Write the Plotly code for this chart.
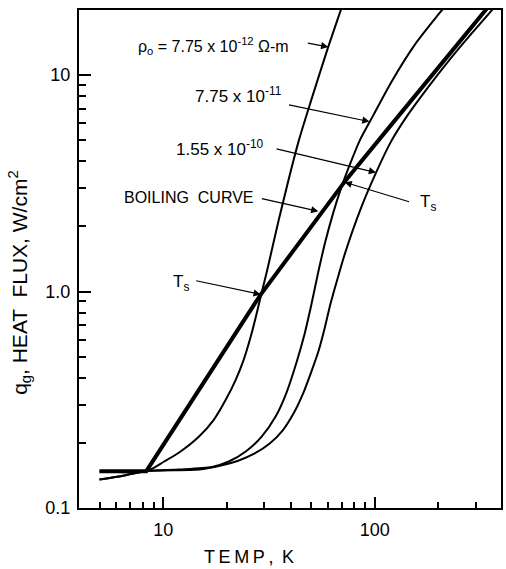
import numpy as np
import plotly.graph_objects as go

# ---- data ----
T_boil = [5.0, 8.32, 28.89, 73.3, 119.3, 174.2, 241.1, 330.0, 348.4]
q_boil = [0.1479, 0.1479, 0.9686, 3.291, 5.875, 9.213, 13.56, 19.69, 21.01]

T_r12 = [5.0, 8.32, 10.11, 11.89, 14.77, 17.37, 19.78, 22.04, 24.03, 25.93, 27.36,
         28.89, 30.83, 35.11, 43.60, 50.17, 60.31, 68.69, 70.96]
q_r12 = [0.1479, 0.1479, 0.164, 0.1804, 0.2139, 0.2563, 0.3170, 0.3922, 0.4852, 0.6197,
         0.7586, 0.9482, 1.224, 2.128, 4.930, 7.706, 13.54, 19.65, 21.62]

T_r11 = [5.0, 6.555, 8.32, 11.89, 17.00, 20.43, 24.56, 29.20, 33.99, 38.28, 42.66, 46.52,
         50.17, 54.13, 58.40, 63.68, 69.43, 76.55, 85.30, 98.18, 119.3, 154.7, 204.9, 214.0]
q_r11 = [0.1354, 0.1413, 0.1482, 0.1506, 0.1547, 0.1640, 0.1824, 0.2139, 0.2646, 0.3416,
         0.4699, 0.6330, 0.8710, 1.237, 1.702, 2.317, 3.022, 3.902, 5.036, 6.501, 9.234,
         13.83, 19.65, 20.72]

T_r10 = [5.0, 6.555, 8.32, 14.77, 18.74, 22.77, 27.07, 31.86, 36.66, 41.29, 46.02, 50.17,
         54.13, 57.77, 61.64, 66.50, 72.51, 86.22, 101.4, 119.3, 140.4, 178.1, 226.0, 283.7,
         356.0, 367.8]
q_r10 = [0.1354, 0.1413, 0.1482, 0.1506, 0.1572, 0.1658, 0.1786, 0.1986, 0.2280, 0.2732,
         0.3416, 0.4270, 0.5283, 0.6677, 0.8710, 1.136, 1.514, 2.443, 3.545, 4.930, 6.364,
         8.757, 11.79, 15.38, 19.86, 20.72]

x_major = [10, 100]
x_major_text = ["10", "100"]
x_minor = [5, 6, 7, 8, 9, 20, 30, 40, 50, 60, 70, 80, 90, 200, 300]
y_major = [0.1, 1, 10]
y_major_text = ["0.1", "1.0", "10"]
y_minor = [0.2, 0.3, 0.4, 0.5, 0.6, 0.7, 0.8, 0.9, 2, 3, 4, 5, 6, 7, 8, 9]

# arrow tips (T, q) on the curves
tip_r12 = (60.3, 13.5)
tip_r11 = (94.4, 6.1)
tip_r10 = (101.4, 3.55)
tip_boil = (54.1, 2.35)
tip_ts_right = (72.0, 3.2)
tip_ts_left = (28.9, 0.97)

FONT = "Liberation Sans"

fig = go.Figure()
for T, q in [(T_r12, q_r12), (T_r11, q_r11), (T_r10, q_r10)]:
    fig.add_trace(go.Scatter(x=T, y=q, mode="lines",
                             line=dict(color="black", width=2, shape="spline", smoothing=0.7),
                             hoverinfo="skip"))
fig.add_trace(go.Scatter(x=T_boil, y=q_boil, mode="lines",
                         line=dict(color="black", width=4), hoverinfo="skip"))

axis_common = dict(type="log", showgrid=False, zeroline=False, showline=True,
                   linecolor="black", linewidth=2, mirror=True, ticks="inside",
                   tickwidth=1.5, tickcolor="black",
                   tickfont=dict(size=18, family=FONT, color="black"))

fig.update_xaxes(**axis_common, range=[np.log10(4.0), np.log10(395)],
                 tickmode="array", tickvals=x_major, ticktext=x_major_text, ticklen=11,
                 ticklabelstandoff=4,
                 minor=dict(tickmode="array", tickvals=x_minor, ticks="inside", ticklen=6,
                            tickwidth=1.5, tickcolor="black", showgrid=False))
fig.update_yaxes(**axis_common, range=[-1, np.log10(20)],
                 tickmode="array", tickvals=y_major, ticktext=y_major_text, ticklen=12,
                 ticklabelstandoff=3,
                 minor=dict(tickmode="array", tickvals=y_minor, ticks="inside", ticklen=7,
                            tickwidth=1.5, tickcolor="black", showgrid=False))

ann = []
def text(x, y, s, size=17, xanchor="left"):
    ann.append(dict(xref="paper", yref="paper", x=x, y=y, text=s, showarrow=False,
                    xanchor=xanchor, yanchor="middle",
                    font=dict(family=FONT, size=size, color="black")))

def arrow(tip, ax, ay):
    ann.append(dict(xref="x", yref="y", x=np.log10(tip[0]), y=np.log10(tip[1]), text="",
                    showarrow=True, ax=ax, ay=ay, arrowhead=2, arrowsize=1.2,
                    arrowwidth=1.2, arrowcolor="black", standoff=0))

text(0.135, 0.928, "ρ<sub>o</sub> = 7.75 x 10<sup>-12</sup> Ω-m", size=16)
text(0.269, 0.829, "7.75 x 10<sup>-11</sup>")
text(0.226, 0.723, "1.55 x 10<sup>-10</sup>")
text(0.101, 0.624, "BOILING  CURVE", size=16)
text(0.804, 0.612, "T<sub>s</sub>")
text(0.219, 0.452, "T<sub>s</sub>")

arrow(tip_r12, -22, -4)
arrow(tip_r11, -82, -17)
arrow(tip_r10, -101, -24)
arrow(tip_boil, -58, -13)
arrow(tip_ts_right, 66, 20)
arrow(tip_ts_left, -66, -14)

# axis titles
text(0.403, -0.098, "T\u2009E\u2009M\u2009P\u2009,\u2009 K", size=18, xanchor="center")
ann.append(dict(xref="paper", yref="paper", x=-0.140, y=0.452, showarrow=False,
                text="q<sub>g</sub>, HEAT  FLUX, W/cm<sup>2</sup>", textangle=-90,
                xanchor="center", yanchor="middle",
                font=dict(family=FONT, size=21, color="black")))

fig.update_layout(width=506, height=569, margin=dict(l=79, r=3, t=10, b=61),
                  paper_bgcolor="white", plot_bgcolor="white", showlegend=False,
                  font=dict(family=FONT, color="black"), annotations=ann)

fig.write_html("out.html", config={"displayModeBar": False})
